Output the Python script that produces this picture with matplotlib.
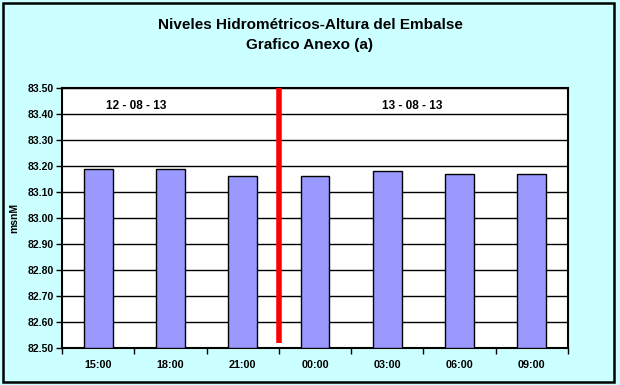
import matplotlib.pyplot as plt
from matplotlib.patches import Rectangle

horas = ["15:00", "18:00", "21:00", "00:00", "03:00", "06:00", "09:00"]
niveles = [83.19, 83.19, 83.16, 83.16, 83.18, 83.17, 83.17]
fechas = ["12 - 08 - 13", "13 - 08 - 13"]
y_ticks = [82.50, 82.60, 82.70, 82.80, 82.90, 83.00, 83.10, 83.20, 83.30, 83.40, 83.50]

plt.rcParams['font.family'] = ['Liberation Sans', 'DejaVu Sans']
plt.rcParams['font.weight'] = 'bold'

fig = plt.figure(figsize=(6.2, 3.85), dpi=100, facecolor='#CCFFFF')
fig.patches.append(Rectangle((3 / 620, 3 / 385), 611 / 620, 379 / 385, transform=fig.transFigure,
                             fill=False, edgecolor='black', linewidth=1.8))
ax = fig.add_axes([62 / 620, 1 - 348 / 385, 506 / 620, 260 / 385])
ax.set_facecolor('white')

x = list(range(len(horas)))
ax.bar(x, [v - 82.5 for v in niveles], bottom=82.5, width=0.4, color='#9999FF',
       edgecolor='black', linewidth=1, zorder=3)

ax.set_xlim(-0.5, len(horas) - 0.5)
ax.set_ylim(82.5, 83.5)
ax.set_yticks(y_ticks)
ax.set_yticklabels([f"{v:.2f}" for v in y_ticks], fontsize=7.5, fontweight='bold')
ax.yaxis.grid(True, color='black', linewidth=1, zorder=0)
ax.set_axisbelow(True)

# marcas en los limites de las categorias, etiquetas en el centro
ax.set_xticks([i - 0.5 for i in range(len(horas) + 1)])
ax.set_xticklabels([])
ax.set_xticks(x, minor=True)
ax.set_xticklabels(horas, minor=True, fontsize=7.8, fontweight='bold')
ax.tick_params(axis='x', which='minor', length=0, pad=9)
ax.tick_params(axis='x', which='major', length=4, direction='out', width=1)
ax.tick_params(axis='y', length=4, direction='out', width=1, pad=2)

for s in ax.spines.values():
    s.set_linewidth(1.5)
    s.set_color('black')

ax.plot([2.5, 2.5], [82.52, 83.5], color='#FF0000', linewidth=4, zorder=4, solid_capstyle='butt')

ax.text(0.52, 83.43, fechas[0], ha='center', va='center', fontsize=8.5, fontweight='bold')
ax.text(4.35, 83.43, fechas[1], ha='center', va='center', fontsize=8.5, fontweight='bold')

ax.set_ylabel("msnM", fontsize=7.5, fontweight='bold', labelpad=6)

fig.text(0.5, 1 - 25 / 385, "Niveles Hidrométricos-Altura del Embalse", ha='center', va='center',
         fontsize=11, fontweight='bold')
fig.text(0.5, 1 - 45 / 385, "Grafico Anexo (a)", ha='center', va='center',
         fontsize=11, fontweight='bold')

fig.savefig("out.png", dpi=100, facecolor=fig.get_facecolor())
